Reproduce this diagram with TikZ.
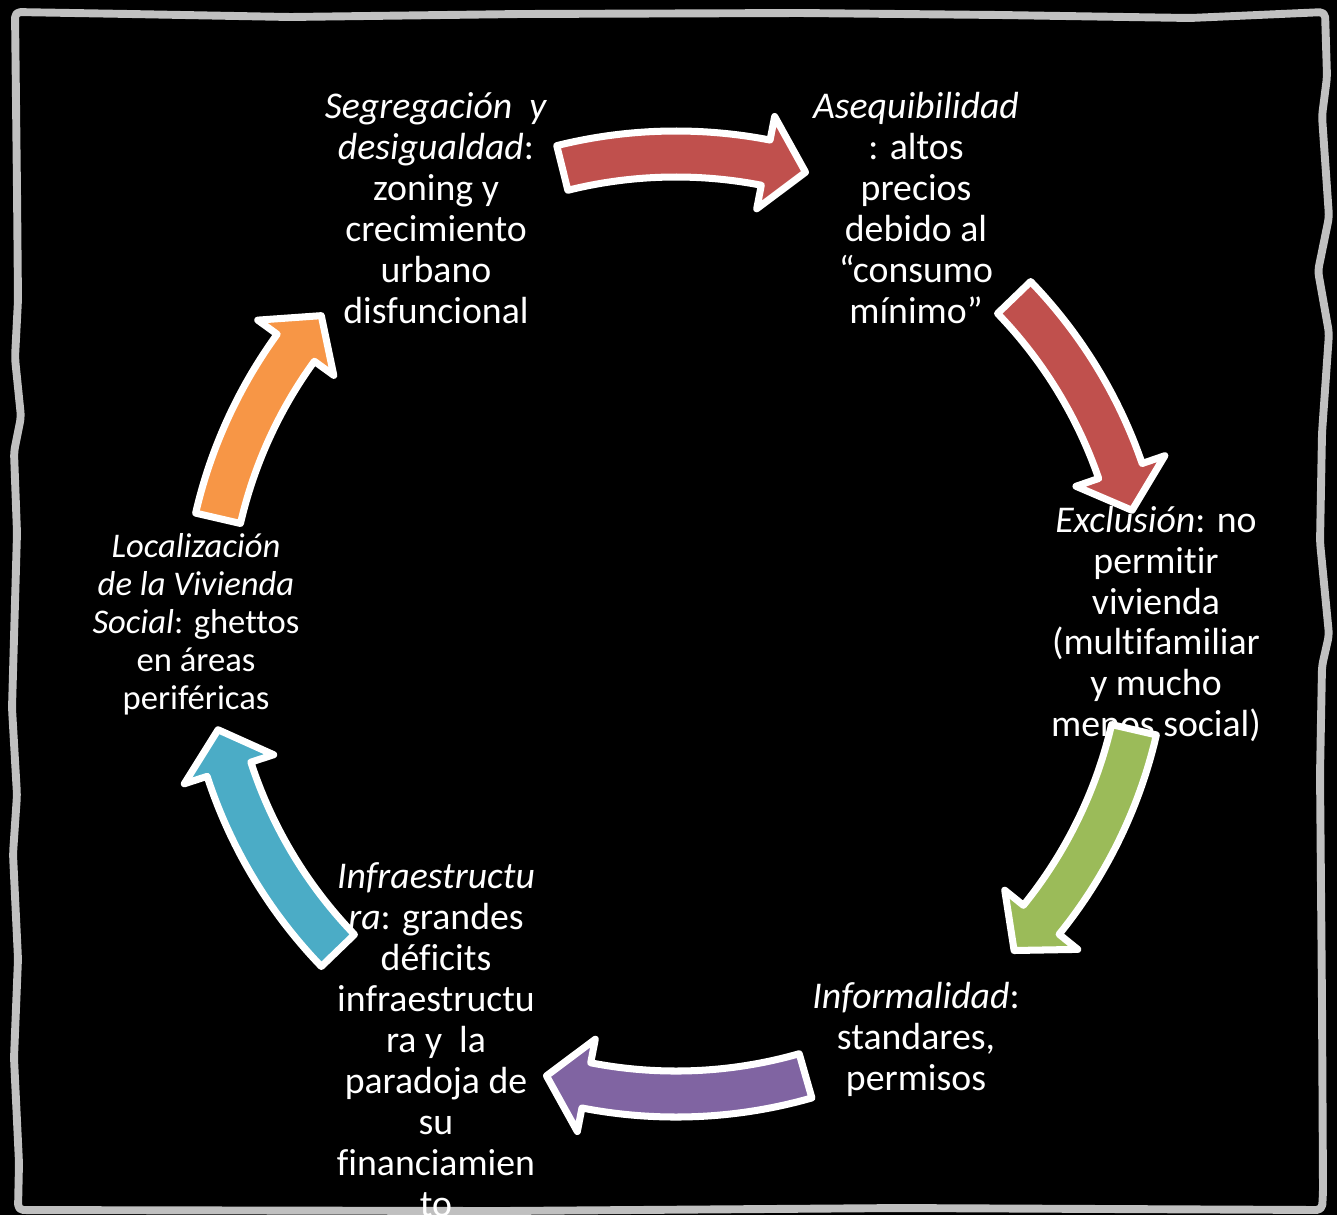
\documentclass[tikz,border=0pt]{standalone}
\usepackage{fontspec}
\setmainfont{Carlito}[Ligatures=NoCommon]
\usetikzlibrary{positioning,calc}

\definecolor{frame}{HTML}{C0C0C0}
\definecolor{arrowred}{HTML}{C0504D}
\definecolor{arrowgreen}{HTML}{9BBB59}
\definecolor{arrowpurple}{HTML}{8064A2}
\definecolor{arrowcyan}{HTML}{4BACC6}
\definecolor{arroworange}{HTML}{F79646}

\begin{document}
\begin{tikzpicture}[x=0.02cm, y=-0.02cm,
				cycletext/.style={text=white, align=center, inner sep=0pt, font=\fontsize{21.5}{23.3}\selectfont},
				smalltext/.style={cycletext, font=\fontsize{19.7}{21.6}\selectfont},
				cyclearrow/.style={draw=white, line width=4pt, line join=round},
				sketchframe/.style={draw=frame, line width=4.5pt, line join=round, line cap=round, rounded corners=3pt}
			]
			\path[use as bounding box, fill=black] (0,0) rectangle (1337,1215);
			% hand drawn frame
			\draw[sketchframe] (18,1210) -- (19,1163) -- (14,1058) -- (18,959) -- (13,854) -- (17,795) -- (12,708) -- (17,533) -- (14,452) -- (21,417) -- (15,358) -- (18,300) -- (17,190) -- (15,12)
				-- (130,14) -- (290,17) -- (520,14) -- (800,13) -- (1000,15) -- (1190,18) -- (1325,12)
				-- (1327,77) -- (1322,116) -- (1329,217) -- (1318,271) -- (1329,333) -- (1322,433) -- (1320,542) -- (1329,635) -- (1322,666) -- (1320,774) -- (1322,1006) -- (1323,1192) -- (1322,1210)
				-- (900,1208) -- (500,1211) -- cycle;
			\coordinate (hub) at (676,624);
			\begin{scope}[shift={(hub)}]
			\node[cycletext] (segregacion) at (-120:480) {\textit{Segregación\ \ y}\\\textit{desigualdad}:\\zoning y\\crecimiento\\urbano\\disfuncional};
			\draw[cyclearrow, fill=arrowred] (-104:493) arc[start angle=-104, end angle=-79, radius=493] -- (-79:517) -- (-74:470) -- (-79:423) -- (-79:447) arc[start angle=-79, end angle=-104, radius=447] -- cycle;
			\node[cycletext] (asequibilidad) at (-60:480) {\textit{Asequibilidad}\\: altos\\precios\\debido al\\“consumo\\mínimo”};
			\draw[cyclearrow, fill=arrowred] (-44:493) arc[start angle=-44, end angle=-19, radius=493] -- (-19:517) -- (-14:470) -- (-19:423) -- (-19:447) arc[start angle=-19, end angle=-44, radius=447] -- cycle;
			\node[cycletext] (exclusion) at (0:480) {\textit{Exclusión}: no\\permitir\\vivienda\\(multifamiliar\\y mucho\\menos social)};
			\draw[cyclearrow, fill=arrowgreen] (13:493) arc[start angle=13, end angle=39, radius=493] -- (39:517) -- (44:470) -- (39:423) -- (39:447) arc[start angle=39, end angle=13, radius=447] -- cycle;
			\node[cycletext] (informalidad) at (60:480) {\textit{Informalidad}:\\standares,\\permisos};
			\draw[cyclearrow, fill=arrowpurple] (74:493) arc[start angle=74, end angle=101, radius=493] -- (101:517) -- (106:470) -- (101:423) -- (101:447) arc[start angle=101, end angle=74, radius=447] -- cycle;
			\node[cycletext] (infraestructura) at (120:480) {\textit{Infraestructu}\\\textit{ra}: grandes\\déficits\\infraestructu\\ra y\ \ la\\paradoja de\\su\\financiamien\\to};
			\draw[cyclearrow, fill=arrowcyan] (136:493) arc[start angle=136, end angle=162, radius=493] -- (162:517) -- (167:470) -- (162:423) -- (162:447) arc[start angle=162, end angle=136, radius=447] -- cycle;
			\node[smalltext] (localizacion) at (180:480) {\textit{Localización}\\\textit{de la Vivienda}\\\textit{Social}: ghettos\\en áreas\\periféricas};
			\draw[cyclearrow, fill=arroworange] (193:493) arc[start angle=193, end angle=216, radius=493] -- (216:517) -- (221:470) -- (216:423) -- (216:447) arc[start angle=216, end angle=193, radius=447] -- cycle;
			\end{scope}
\end{tikzpicture}
\end{document}
